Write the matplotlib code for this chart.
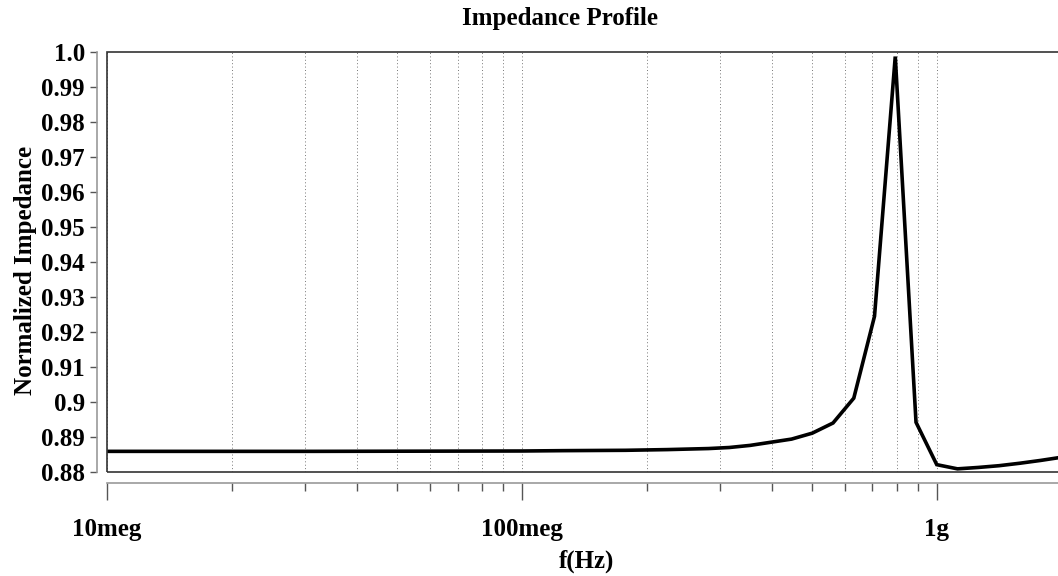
"""
Impedance profile plot (log frequency axis).
"""
import matplotlib
matplotlib.use('Agg')
import matplotlib.pyplot as plt
from matplotlib.patches import Rectangle
from matplotlib.ticker import LogLocator, FixedLocator, FixedFormatter, NullFormatter

# frequency samples (Hz) and normalized impedance
freq_hz = [1.0e7, 3.16e7, 1.0e8, 1.259e8, 1.778e8, 2.239e8, 2.818e8, 3.162e8,
           3.548e8, 3.981e8, 4.467e8, 5.012e8, 5.623e8, 6.310e8, 7.079e8,
           7.943e8, 8.913e8, 1.0e9, 1.122e9, 1.259e9, 1.413e9, 1.585e9,
           1.778e9, 1.995e9]
impedance = [0.8859, 0.8859, 0.8860, 0.8861, 0.8862, 0.8864, 0.8867, 0.8870,
             0.8876, 0.8885, 0.8894, 0.8911, 0.8940, 0.9011, 0.9245,
             0.9987, 0.8942, 0.8821, 0.8809, 0.8813, 0.8818, 0.8825,
             0.8833, 0.8842]

x_major = [1e7, 1e8, 1e9]
x_major_labels = ['10meg', '100meg', '1g']
y_ticks = [0.88, 0.89, 0.90, 0.91, 0.92, 0.93, 0.94, 0.95, 0.96, 0.97, 0.98, 0.99, 1.0]
y_labels = ['0.88', '0.89', '0.9', '0.91', '0.92', '0.93', '0.94', '0.95',
            '0.96', '0.97', '0.98', '0.99', '1.0']

plt.rcParams['font.family'] = ['Liberation Serif', 'DejaVu Serif']
plt.rcParams['font.weight'] = 'bold'

W, H = 1058, 576
fig = plt.figure(figsize=(W / 100, H / 100), dpi=100)
ax = fig.add_axes([107 / W, 1 - 472 / H, 1 - 107 / W, (472 - 52) / H])

ax.plot(freq_hz, impedance, color='black', linewidth=2.6, solid_joinstyle='miter')

ax.set_xscale('log')
ax.set_xlim(1e7, 1.96e9)
ax.set_ylim(0.88, 1.0)

# vertical dotted grid at every decade and sub-decade step
ax.xaxis.set_major_locator(FixedLocator(x_major))
ax.xaxis.set_major_formatter(FixedFormatter(x_major_labels))
ax.xaxis.set_minor_locator(LogLocator(base=10, subs=range(2, 10), numticks=20))
ax.xaxis.set_minor_formatter(NullFormatter())
ax.grid(True, axis='x', which='both', linestyle=(0, (1, 2.5)), color='#777777', linewidth=0.7)

ax.set_yticks(y_ticks)
ax.set_yticklabels(y_labels)

# detached axis lines
for side in ['top', 'right']:
    ax.spines[side].set_visible(False)
ax.spines['left'].set_position(('outward', 7))
ax.spines['bottom'].set_position(('outward', 8))
ax.spines['left'].set_color('#999999')
ax.spines['bottom'].set_color('#999999')
ax.spines['left'].set_linewidth(1.2)
ax.spines['bottom'].set_linewidth(1.2)

ax.tick_params(axis='y', direction='out', length=5, width=1, color='#555555',
               labelsize=18, pad=4)
ax.tick_params(axis='x', which='major', direction='out', length=12, width=1,
               color='#555555', labelsize=18, pad=13)
ax.tick_params(axis='x', which='minor', direction='out', length=6, width=1,
               color='#555555')

# plot frame
ax.add_patch(Rectangle((0, 0), 1.05, 1, transform=ax.transAxes, fill=False,
                       edgecolor='#333333', linewidth=1.2, clip_on=False, zorder=3))

fig.text(560 / W, 1 - 19 / H, 'Impedance Profile', ha='center', va='center',
         fontsize=18, fontweight='bold')
fig.text(587 / W, 1 - 561 / H, 'f(Hz)', ha='center', va='center',
         fontsize=18, fontweight='bold')
fig.text(26 / W, 1 - 270 / H, 'Normalized Impedance', ha='center', va='center',
         rotation=90, fontsize=18, fontweight='bold')

fig.savefig('out.png', dpi=100)
